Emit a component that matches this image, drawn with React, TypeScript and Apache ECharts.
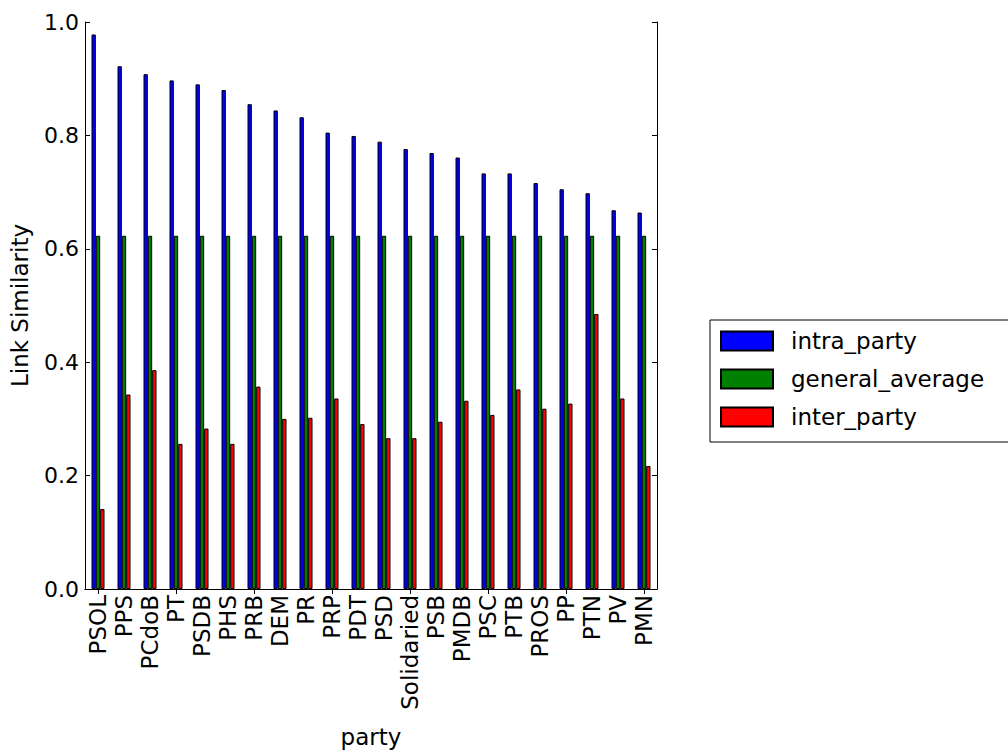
import React, { useEffect, useRef } from "react";
import * as echarts from "echarts";

const parties = [
  "PSOL", "PPS", "PCdoB", "PT", "PSDB", "PHS", "PRB", "DEM", "PR", "PRP", "PDT",
  "PSD", "Solidaried", "PSB", "PMDB", "PSC", "PTB", "PROS", "PP", "PTN", "PV", "PMN",
];
const intraParty = [
  0.978, 0.922, 0.908, 0.897, 0.890, 0.880, 0.855, 0.844, 0.832, 0.805, 0.799,
  0.789, 0.776, 0.769, 0.761, 0.733, 0.733, 0.716, 0.705, 0.698, 0.668, 0.664,
];
const generalAverage = [
  0.623, 0.623, 0.623, 0.623, 0.623, 0.623, 0.623, 0.623, 0.623, 0.623, 0.623,
  0.623, 0.623, 0.623, 0.623, 0.623, 0.623, 0.623, 0.623, 0.623, 0.623, 0.623,
];
const interParty = [
  0.141, 0.343, 0.386, 0.256, 0.283, 0.256, 0.357, 0.300, 0.302, 0.336, 0.291,
  0.266, 0.266, 0.295, 0.332, 0.307, 0.352, 0.318, 0.327, 0.485, 0.336, 0.217,
];
const seriesNames = ["intra_party", "general_average", "inter_party"];
const seriesColors = ["#0000ff", "#008000", "#ff0000"];

const FONT = "DejaVu Sans";

export default function App() {
  const ref = useRef<HTMLDivElement>(null);
  useEffect(() => {
    if (!ref.current) return;
    const chart = echarts.init(ref.current, null, { renderer: "svg" });
    const values = [intraParty, generalAverage, interParty];
    const barW = 572 / parties.length / 6;
    const tick = { show: true, inside: true, length: 5, lineStyle: { color: "#000", width: 1 } };
    chart.setOption({
      animation: false,
      backgroundColor: "#ffffff",
      textStyle: { fontFamily: FONT },
      grid: { left: 85, top: 22, width: 572, height: 571, containLabel: false },
      legend: {
        orient: "vertical",
        left: 710,
        top: 320,
        padding: [9, 40, 13, 10],
        borderColor: "#000",
        borderWidth: 1,
        itemWidth: 52,
        itemHeight: 19,
        itemGap: 14,
        icon: "rect",
        data: seriesNames,
        textStyle: {
          fontFamily: FONT,
          fontSize: 23,
          color: "#000",
          lineHeight: 24,
          padding: [0, 0, 0, 13],
        },
      },
      xAxis: [
        {
          type: "category",
          data: parties,
          position: "bottom",
          name: "party",
          nameLocation: "middle",
          nameGap: 136,
          nameTextStyle: { fontFamily: FONT, fontSize: 23, color: "#000" },
          axisLine: { lineStyle: { color: "#000", width: 1 } },
          axisTick: { ...tick, alignWithLabel: true },
          axisLabel: {
            rotate: 90,
            interval: 0,
            margin: 6,
            fontFamily: FONT,
            fontSize: 23,
            color: "#000",
          },
          splitLine: { show: false },
        },
        {
          type: "category",
          data: parties,
          position: "top",
          axisLine: { lineStyle: { color: "#000", width: 1 } },
          axisTick: { ...tick, alignWithLabel: true },
          axisLabel: { show: false },
          splitLine: { show: false },
        },
      ],
      yAxis: [
        {
          type: "value",
          min: 0,
          max: 1,
          interval: 0.2,
          position: "left",
          name: "Link Similarity",
          nameLocation: "middle",
          nameGap: 54,
          nameTextStyle: { fontFamily: FONT, fontSize: 23, color: "#000" },
          axisLine: { show: true, lineStyle: { color: "#000", width: 1 } },
          axisTick: tick,
          axisLabel: {
            margin: 6,
            fontFamily: FONT,
            fontSize: 22,
            color: "#000",
            formatter: (v: number) => v.toFixed(1),
          },
          splitLine: { show: false },
        },
        {
          type: "value",
          min: 0,
          max: 1,
          interval: 0.2,
          position: "right",
          axisLine: { show: true, lineStyle: { color: "#000", width: 1 } },
          axisTick: tick,
          axisLabel: { show: false },
          splitLine: { show: false },
        },
      ],
      series: seriesNames.map((name, i) => ({
        name,
        type: "bar",
        xAxisIndex: 0,
        yAxisIndex: 0,
        data: values[i],
        barWidth: barW,
        barGap: "0%",
        itemStyle: { color: seriesColors[i], borderColor: "#000", borderWidth: 1 },
      })),
    });
    return () => chart.dispose();
  }, []);
  return (
    <div
      ref={ref}
      style={{ position: "absolute", left: 0, top: 0, width: 1008, height: 753 }}
    />
  );
}
